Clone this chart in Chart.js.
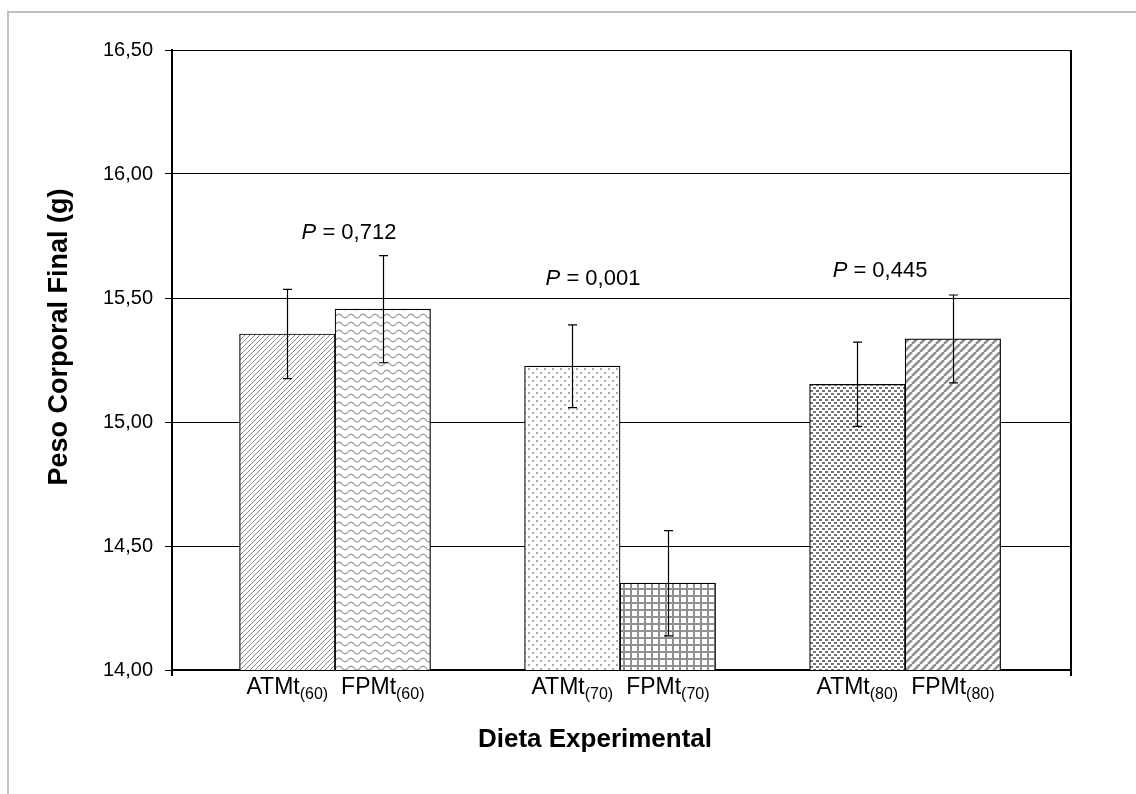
<!DOCTYPE html>
<html>
<head>
<meta charset="utf-8">
<script src="https://cdn.jsdelivr.net/npm/chart.js@4/dist/chart.umd.min.js"></script>
<style>
  html, body { margin: 0; padding: 0; background: #fff; overflow: hidden; }
  #frame { position: absolute; left: 7px; top: 11px; width: 1300px; height: 900px;
           border-left: 2px solid #c0c0c0; border-top: 2px solid #c0c0c0; }
  #wrap { position: absolute; left: 0; top: 0; width: 1136px; height: 794px; }
</style>
</head>
<body>
<div id="frame"></div>
<div id="wrap"><canvas id="c" width="1136" height="794"></canvas></div>
<script>
// dieta levels (x position of each group)
const groups = [60, 70, 80];
const seriesNames = ['ATMt', 'FPMt'];
const atmtValues = [15.355, 15.225, 15.152];
const atmtErrors = [0.18, 0.167, 0.17];
const fpmtValues = [15.455, 14.35, 15.335];
const fpmtErrors = [0.216, 0.212, 0.177];
const pValues = ['0,712', '0,001', '0,445'];
const yMin = 14, yMax = 16.5, yStep = 0.5;

const FONT = "'Liberation Sans', Arial, sans-serif";

function makePattern(kind) {
    const c = document.createElement('canvas');
    const g = c.getContext('2d');
    c.width = 8; c.height = 8;
    if (kind === 'fineDiag') { c.width = 5; c.height = 5; }
    if (kind === 'wave') { c.width = 12; c.height = 8; }
    if (kind === 'grid') { c.width = 7; c.height = 7; }
    if (kind === 'denseDots') { c.width = 6; c.height = 6; }
    g.fillStyle = '#fff';
    g.fillRect(0, 0, c.width, c.height);

    if (kind === 'fineDiag') {
        g.fillStyle = '#8a8a8a';
        for (let i = 0; i < 5; i++) g.fillRect(i, 4 - i, 1, 1);
    } else if (kind === 'wave') {
        g.strokeStyle = '#a0a0a0';
        g.lineWidth = 1.3;
        g.beginPath();
        for (let x = 0; x <= 12; x += 0.5) {
            const y = 4 - 1.8 * Math.sin(2 * Math.PI * x / 12);
            if (x === 0) g.moveTo(x, y); else g.lineTo(x, y);
        }
        g.stroke();
    } else if (kind === 'sparseDots') {
        g.fillStyle = '#a8a8a8';
        g.fillRect(0, 0, 2, 2);
        g.fillRect(4, 4, 2, 2);
    } else if (kind === 'grid') {
        g.fillStyle = '#919191';
        g.fillRect(0, 0, 7, 2);
        g.fillRect(0, 0, 2, 7);
    } else if (kind === 'denseDots') {
        g.fillStyle = '#757575';
        g.fillRect(0, 0, 3, 2);
        g.fillRect(3, 3, 3, 2);
    } else if (kind === 'wideDiag') {
        g.strokeStyle = '#8f8f8f';
        g.lineWidth = 2.6;
        for (let i = -1; i <= 1; i++) {
            g.beginPath();
            g.moveTo(i * 8, 8);
            g.lineTo(i * 8 + 8, 0);
            g.stroke();
        }
    }
    return g.createPattern(c, 'repeat');
}

const errorBars = {
    id: 'errorBars',
    afterDatasetsDraw(chart) {
        const { ctx, scales: { y } } = chart;
        const errs = [atmtErrors, fpmtErrors];
        ctx.save();
        ctx.strokeStyle = '#000';
        ctx.lineWidth = 1.2;
        chart.data.datasets.forEach((ds, i) => {
            chart.getDatasetMeta(i).data.forEach((bar, j) => {
                const v = ds.data[j].y;
                const x = Math.round(bar.x) + 0.5;
                const top = y.getPixelForValue(v + errs[i][j]);
                const bot = y.getPixelForValue(v - errs[i][j]);
                ctx.beginPath();
                ctx.moveTo(x, top); ctx.lineTo(x, bot);
                ctx.moveTo(x - 4.5, top); ctx.lineTo(x + 4.5, top);
                ctx.moveTo(x - 4.5, bot); ctx.lineTo(x + 4.5, bot);
                ctx.stroke();
            });
        });
        ctx.restore();
    }
}

const decorations = {
    id: 'decorations',
    afterDraw(chart) {
        const { ctx, chartArea: { top, bottom, left, right }, scales: { x, y } } = chart;
        ctx.save();
        // right border and end ticks of the x axis
        ctx.strokeStyle = '#000';
        ctx.lineWidth = 2;
        ctx.beginPath();
        ctx.moveTo(right, top); ctx.lineTo(right, bottom + 6);
        ctx.moveTo(left, bottom); ctx.lineTo(left, bottom + 6);
        ctx.stroke();

        // bar labels with subscript
        ctx.fillStyle = '#000';
        ctx.textBaseline = 'alphabetic';
        chart.data.datasets.forEach((ds, i) => {
            chart.getDatasetMeta(i).data.forEach((bar, j) => {
                const main = seriesNames[i];
                const sub = '(' + groups[j] + ')';
                ctx.font = '23px ' + FONT;
                const w1 = ctx.measureText(main).width;
                ctx.font = '16px ' + FONT;
                const w2 = ctx.measureText(sub).width;
                const x0 = bar.x - (w1 + w2) / 2;
                ctx.font = '23px ' + FONT;
                ctx.textAlign = 'left';
                ctx.fillText(main, x0, bottom + 24);
                ctx.font = '16px ' + FONT;
                ctx.fillText(sub, x0 + w1, bottom + 29);
            });
        });

        // P values above each group
        const pPos = [[60.49, 15.762], [69.05, 15.577], [79.12, 15.609]];
        pValues.forEach((p, j) => {
            const px = x.getPixelForValue(pPos[j][0]);
            const py = y.getPixelForValue(pPos[j][1]);
            ctx.font = 'italic 22px ' + FONT;
            const wP = ctx.measureText('P').width;
            ctx.font = '22px ' + FONT;
            const rest = ' = ' + p;
            const wR = ctx.measureText(rest).width;
            const x0 = px - (wP + wR) / 2;
            ctx.textBaseline = 'middle';
            ctx.textAlign = 'left';
            ctx.font = 'italic 22px ' + FONT;
            ctx.fillText('P', x0, py);
            ctx.font = '22px ' + FONT;
            ctx.fillText(rest, x0 + wP, py);
        });

        // axis titles
        ctx.textAlign = 'center';
        ctx.textBaseline = 'middle';
        ctx.font = 'bold 26px ' + FONT;
        ctx.fillText('Dieta Experimental', 595, 740);
        ctx.font = 'bold 27px ' + FONT;
        ctx.translate(60, 337);
        ctx.rotate(-Math.PI / 2);
        ctx.fillText('Peso Corporal Final (g)', 0, 0);
        ctx.restore();
    }
}

const atmtFills = [makePattern('fineDiag'), makePattern('sparseDots'), makePattern('denseDots')];
const fpmtFills = [makePattern('wave'), makePattern('grid'), makePattern('wideDiag')];

new Chart(document.getElementById('c'), {
    type: 'bar',
    data: {
        datasets: [{
            label: seriesNames[0],
            data: groups.map((g, i) => ({ x: g, y: atmtValues[i] })),
            backgroundColor: atmtFills,
            borderColor: '#000',
            borderWidth: 1.2,
            barThickness: 95.5
        }, {
            label: seriesNames[1],
            data: groups.map((g, i) => ({ x: g, y: fpmtValues[i] })),
            backgroundColor: fpmtFills,
            borderColor: '#000',
            borderWidth: 1.2,
            barThickness: 95.5
        }]
    },
    options: {
        responsive: false,
        animation: false,
        layout: { padding: { top: 50, right: 65, left: 0, bottom: 0 } },
        scales: {
            x: {
                type: 'linear',
                offset: false,
                min: 54.28,
                max: 85.82,
                grid: { display: false },
                ticks: { display: false },
                border: { display: true, color: '#000', width: 2 },
                afterFit(scale) { scale.height = 124; }
            },
            y: {
                min: yMin,
                max: yMax,
                grid: { color: '#000', lineWidth: 1, tickLength: 7 },
                border: { display: true, color: '#000', width: 2 },
                ticks: {
                    stepSize: yStep,
                    padding: 12,
                    color: '#000',
                    font: { family: FONT, size: 20 },
                    callback: (v) => v.toFixed(2).replace('.', ',')
                },
                afterFit(scale) { scale.width = 172; }
            }
        },
        plugins: {
            legend: { display: false },
            tooltip: { enabled: false }
        }
    },
    plugins: [errorBars, decorations]
});
</script>
</body>
</html>
